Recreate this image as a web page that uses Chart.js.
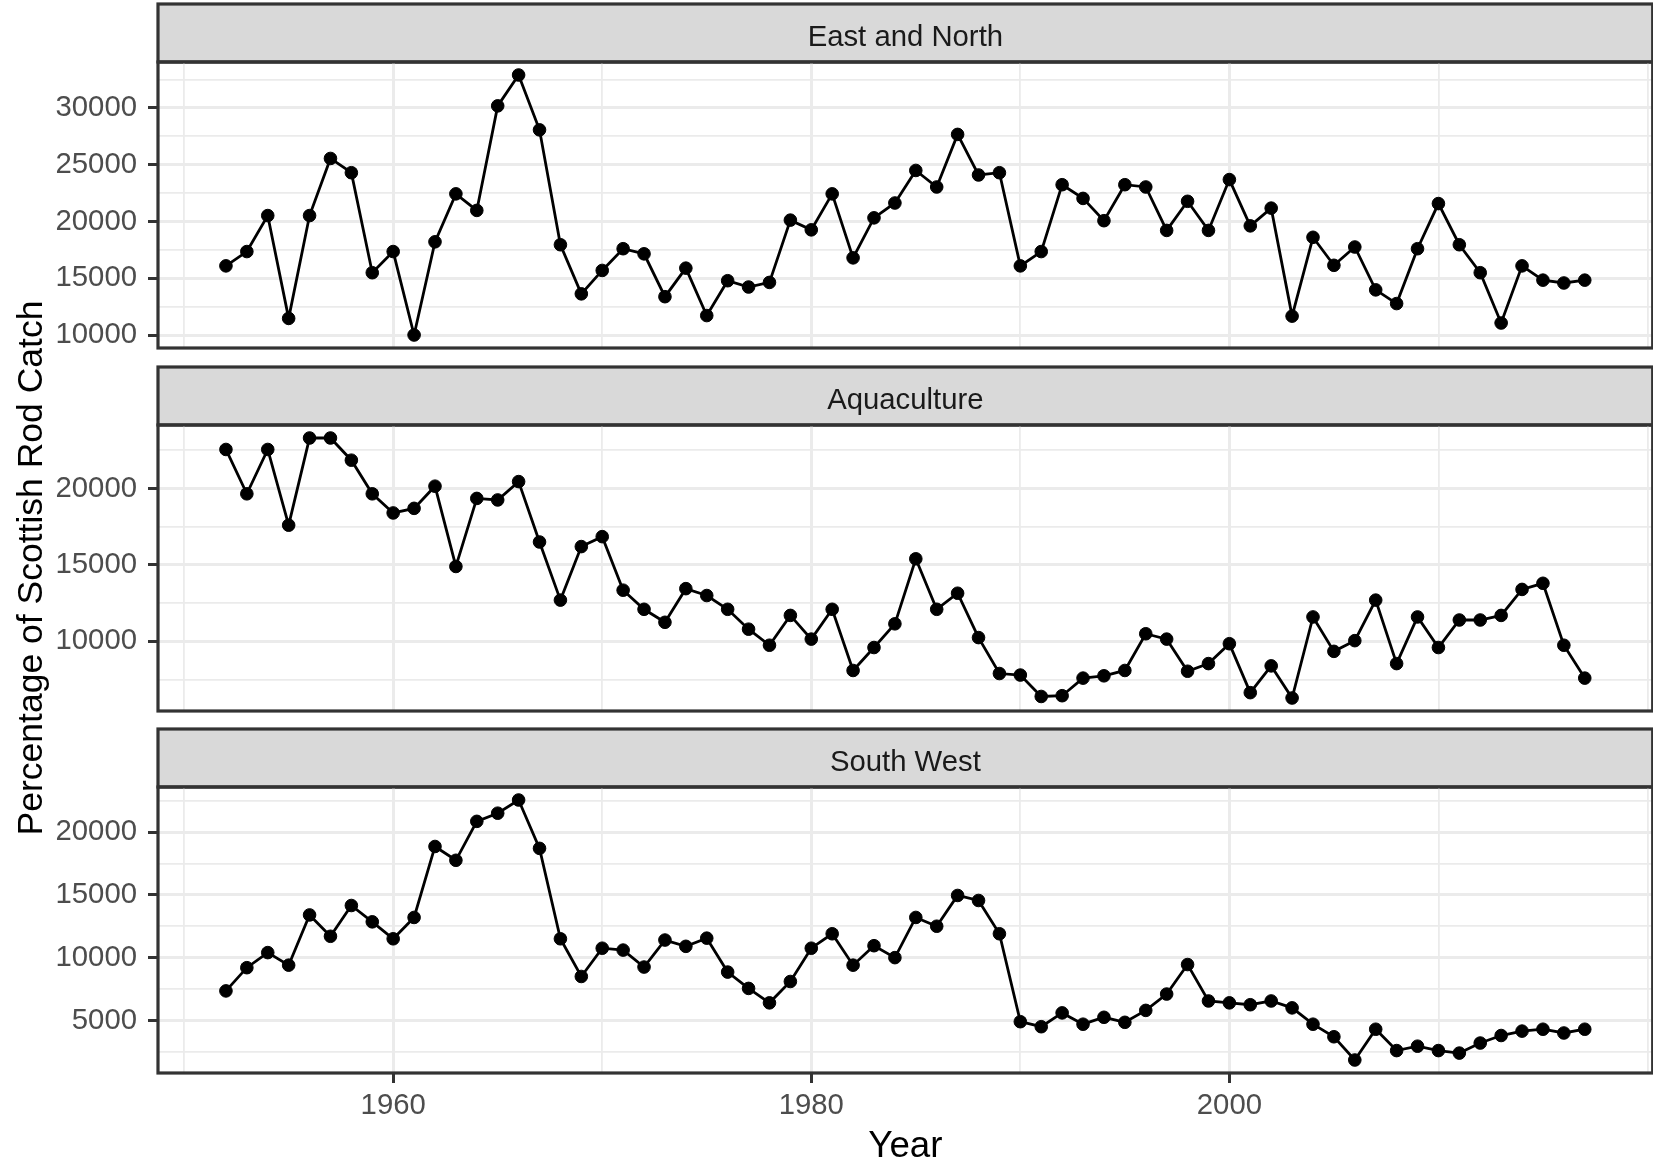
<!DOCTYPE html>
<html>
<head>
<meta charset="utf-8">
<title>Scottish Rod Catch by region</title>
<script src="https://cdn.jsdelivr.net/npm/chart.js@4.4.1/dist/chart.umd.min.js"></script>
<style>
  html, body { margin: 0; padding: 0; background: #ffffff; overflow: hidden; width: 1653px; height: 1161px; }
  canvas { position: absolute; left: 0; top: 0; }
</style>
</head>
<body>
<canvas id="panel0" width="1660" height="1180"></canvas>
<canvas id="panel1" width="1660" height="1180"></canvas>
<canvas id="panel2" width="1660" height="1180"></canvas>
<script>
// ---- data -------------------------------------------------------------
const years = [
  1952, 1953, 1954, 1955, 1956, 1957, 1958, 1959, 1960, 1961,
  1962, 1963, 1964, 1965, 1966, 1967, 1968, 1969, 1970, 1971,
  1972, 1973, 1974, 1975, 1976, 1977, 1978, 1979, 1980, 1981,
  1982, 1983, 1984, 1985, 1986, 1987, 1988, 1989, 1990, 1991,
  1992, 1993, 1994, 1995, 1996, 1997, 1998, 1999, 2000, 2001,
  2002, 2003, 2004, 2005, 2006, 2007, 2008, 2009, 2010, 2011,
  2012, 2013, 2014, 2015, 2016, 2017
];

const eastAndNorth = [
  16100, 17360, 20525, 11480, 20525, 25550, 24295, 15500, 17360, 10020,
  18215, 22435, 20980, 30175, 32890, 28065, 17960, 13640, 15700, 17610,
  17160, 13390, 15900, 11730, 14795, 14240, 14645, 20125, 19270, 22435,
  16805, 20325, 21630, 24495, 23040, 27665, 24095, 24295, 16100, 17360,
  23240, 22035, 20075, 23240, 23040, 19220, 21780, 19220, 23690, 19620,
  21180, 11680, 18615, 16150, 17760, 13990, 12785, 17610, 21580, 17960,
  15500, 11075, 16100, 14845, 14595, 14845
];

const aquaculture = [
  22550, 19650, 22550, 17600, 23300, 23300, 21850, 19650, 18400, 18700,
  20150, 14900, 19350, 19250, 20450, 16500, 12700, 16200, 16850, 13350,
  12100, 11250, 13450, 13000, 12100, 10800, 9750, 11700, 10150, 12100,
  8100, 9600, 11150, 15400, 12100, 13150, 10250, 7900, 7800, 6400,
  6450, 7600, 7750, 8100, 10500, 10150, 8050, 8550, 9850, 6650,
  8400, 6300, 11600, 9350, 10050, 12700, 8550, 11600, 9600, 11400,
  11400, 11700, 13400, 13800, 9750, 7600
];

const southWest = [
  7360, 9210, 10410, 9410, 13410, 11710, 14160, 12860, 11510, 13210,
  18860, 17760, 20860, 21510, 22560, 18710, 11510, 8510, 10760, 10610,
  9260, 11410, 10910, 11560, 8860, 7560, 6410, 8110, 10760, 11910,
  9410, 10960, 10010, 13210, 12510, 14960, 14560, 11910, 4910, 4510,
  5610, 4710, 5260, 4860, 5810, 7110, 9460, 6560, 6410, 6260,
  6560, 6010, 4710, 3710, 1860, 4310, 2610, 2960, 2610, 2410,
  3210, 3810, 4160, 4310, 4010, 4310
];

const regionNames = ['East and North', 'Aquaculture', 'South West'];
const regionSeries = [eastAndNorth, aquaculture, southWest];

// gridlines every 10 years, year labels on the major ones
const xGridYears = [1950, 1960, 1970, 1980, 1990, 2000, 2010, 2020];
const xTickLabels = [1960, 1980, 2000];
// gridlines every 2500, labels every 5000
const yGridStep = 2500;
const yLabelStep = 5000;

const xTitle = 'Year';
const yTitle = 'Percentage of Scottish Rod Catch';

// ---- layout -----------------------------------------------------------
const CANVAS_W = 1660, CANVAS_H = 1180;
const PANEL_LEFT = 158, PANEL_RIGHT = 1654;
const PANEL_TOP = [62, 425, 787];
const PANEL_H = 286;
const STRIP_H = 58;
const FRAME_W = 3.2;
const FONT = "'Liberation Sans', Arial, sans-serif";

const GRID = '#EBEBEB';
const FRAME = '#333333';
const TICK_TEXT = '#4D4D4D';

// ggplot-style 5% expansion of a continuous range
function expandRange(values) {
  const lo = Math.min(...values), hi = Math.max(...values);
  const pad = (hi - lo) * 0.05;
  return [lo - pad, hi + pad];
}

// grey strip above each panel and the dark frame around it
const facetFrame = {
  id: 'facetFrame',
  beforeDraw(chart) {
    const { ctx, chartArea: a } = chart;
    ctx.save();
    ctx.fillStyle = '#D9D9D9';
    ctx.fillRect(a.left, a.top - STRIP_H, a.right - a.left, STRIP_H);
    ctx.lineWidth = FRAME_W;
    ctx.strokeStyle = FRAME;
    ctx.strokeRect(a.left, a.top - STRIP_H, a.right - a.left, STRIP_H);
    ctx.restore();
  },
  afterDraw(chart) {
    const { ctx, chartArea: a } = chart;
    ctx.save();
    ctx.lineWidth = FRAME_W;
    ctx.strokeStyle = FRAME;
    ctx.strokeRect(a.left, a.top, a.right - a.left, a.bottom - a.top);
    ctx.restore();
  }
};

function makePanel(idx) {
  const values = regionSeries[idx];
  const [xMin, xMax] = expandRange(years);
  const [yMin, yMax] = expandRange(values);
  const isBottom = idx === regionSeries.length - 1;
  const panelBottom = PANEL_TOP[idx] + PANEL_H;
  const isMajorX = v => xTickLabels.includes(v);
  const isMajorY = v => v % yLabelStep === 0;

  new Chart(document.getElementById('panel' + idx), {
    type: 'line',
    data: {
      datasets: [{
        label: regionNames[idx],
        data: years.map((yr, i) => ({ x: yr, y: values[i] })),
        borderColor: '#000000',
        backgroundColor: '#000000',
        borderWidth: 2.8,
        tension: 0,
        pointRadius: 6.3,
        pointBorderWidth: 1,
        pointBackgroundColor: '#000000',
        pointBorderColor: '#000000',
        clip: false
      }]
    },
    options: {
      responsive: false,
      animation: false,
      devicePixelRatio: 1,
      events: [],
      layout: {
        padding: {
          top: PANEL_TOP[idx] - STRIP_H,
          left: 0,
          right: CANVAS_W - PANEL_RIGHT,
          bottom: isBottom ? 0 : CANVAS_H - panelBottom
        }
      },
      plugins: {
        legend: { display: false },
        tooltip: { enabled: false },
        title: {
          display: true,
          text: regionNames[idx],
          fullSize: false,
          color: '#1A1A1A',
          font: { family: FONT, size: 29.3, weight: 'normal', lineHeight: 1.2 },
          padding: { top: 16.6, bottom: STRIP_H - 16.6 - 29.3 * 1.2 }
        }
      },
      scales: {
        x: {
          type: 'linear',
          min: xMin,
          max: xMax,
          bounds: 'data',
          afterBuildTicks: s => { s.ticks = xGridYears.map(v => ({ value: v })); },
          afterFit: s => { s.height = isBottom ? CANVAS_H - panelBottom : 0; },
          ticks: {
            display: isBottom,
            autoSkip: false,
            maxRotation: 0,
            padding: 5.5,
            color: TICK_TEXT,
            font: { family: FONT, size: 29.3 },
            callback: v => (isMajorX(v) ? String(v) : '')
          },
          grid: {
            color: GRID,
            lineWidth: c => (c.tick && isMajorX(c.tick.value) ? 3 : 1.8),
            drawTicks: isBottom,
            tickLength: 10,
            tickWidth: 3,
            tickColor: c => (c.tick && isMajorX(c.tick.value) ? FRAME : 'rgba(0,0,0,0)')
          },
          border: { display: false },
          title: {
            display: isBottom,
            text: xTitle,
            color: '#000000',
            font: { family: FONT, size: 36.7, lineHeight: 1.2 },
            padding: { top: 0, bottom: 10.8 }
          }
        },
        y: {
          type: 'linear',
          min: yMin,
          max: yMax,
          bounds: 'data',
          afterBuildTicks: s => {
            const t = [];
            for (let v = Math.ceil(yMin / yGridStep) * yGridStep; v <= yMax; v += yGridStep) t.push({ value: v });
            s.ticks = t;
          },
          afterFit: s => { s.width = PANEL_LEFT; },
          ticks: {
            autoSkip: false,
            padding: 11,
            color: TICK_TEXT,
            font: { family: FONT, size: 29.3 },
            callback: v => (isMajorY(v) ? String(v) : '')
          },
          grid: {
            color: GRID,
            lineWidth: c => (c.tick && isMajorY(c.tick.value) ? 3 : 1.8),
            drawTicks: true,
            tickLength: 10,
            tickWidth: 3,
            tickColor: c => (c.tick && isMajorY(c.tick.value) ? FRAME : 'rgba(0,0,0,0)')
          },
          border: { display: false },
          title: {
            display: idx === 1,
            text: yTitle,
            color: '#000000',
            font: { family: FONT, size: 35.5, lineHeight: 1.2 },
            padding: { top: 11.4, bottom: 0 }
          }
        }
      }
    },
    plugins: [facetFrame]
  });
}

regionSeries.forEach((_, i) => makePanel(i));
</script>
</body>
</html>
